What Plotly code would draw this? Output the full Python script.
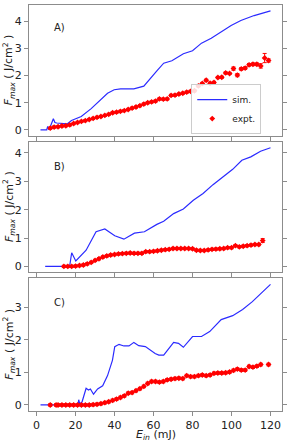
import plotly.graph_objects as go

# ---------------- data ----------------
# Panel A
sim_a_x = [2, 5.2, 5.7, 6.4, 8.6, 9.4, 10.3, 15.8, 17.9, 22.9, 28.0, 32.2, 36.4, 39.8, 43.1, 49.9, 55.0,
           61.7, 65.2, 69.4, 75.3, 80.0, 84.6, 89.6, 94.7, 99.8, 104.8, 111.6, 120]
sim_a_y = [0, 0, 0.12, 0, 0.41, 0.27, 0.25, 0.22, 0.34, 0.49, 0.78, 1.05, 1.35, 1.48, 1.51, 1.51, 1.61,
           2.18, 2.46, 2.55, 2.81, 2.92, 3.2, 3.38, 3.63, 3.85, 4.04, 4.22, 4.39]
exp_a_x = [7, 9, 11, 13, 15, 17, 19, 21, 23, 25, 27, 29, 31, 33, 35, 37, 39, 41, 43, 45, 47, 49, 51, 53,
           55, 57, 59, 61, 63, 65, 67, 69, 71, 73, 75, 77, 79, 81, 83, 85, 87, 89, 91, 93, 95, 97, 99,
           101, 103, 105, 107, 109, 111, 113, 115, 117, 119]
exp_a_y = [0.06, 0.1, 0.11, 0.14, 0.15, 0.18, 0.23, 0.27, 0.31, 0.34, 0.38, 0.42, 0.46, 0.49, 0.53, 0.57,
           0.63, 0.65, 0.68, 0.71, 0.75, 0.8, 0.84, 0.89, 0.95, 1.0, 1.03, 1.06, 1.14, 1.13, 1.14, 1.27,
           1.28, 1.32, 1.35, 1.39, 1.42, 1.44, 1.62, 1.71, 1.83, 1.72, 1.75, 1.93, 1.94, 2.1, 2.08, 2.26,
           2.02, 2.25, 2.28, 2.4, 2.42, 2.42, 2.36, 2.65, 2.56]
exp_a_err = [0.04] * 47 + [0.06, 0.06, 0.05, 0.05, 0.05, 0.05, 0.05, 0.08, 0.17, 0.06]

# Panel B
sim_b_x = [4.4, 16.5, 17.0, 18.0, 20.1, 25.4, 30.5, 35.0, 40.1, 44.8, 50.2, 55.3, 61.7, 65.2, 70.3,
           75.3, 80.4, 85.4, 90.5, 95.6, 100.6, 105.3, 109.9, 114.9, 120]
sim_b_y = [0, 0, 0.03, 0.48, 0.19, 0.57, 1.22, 1.32, 1.08, 0.96, 1.17, 1.22, 1.48, 1.59, 1.86, 2.02,
           2.33, 2.57, 2.88, 3.15, 3.42, 3.74, 3.86, 4.06, 4.18]
exp_b_x = [14, 16, 18, 20, 22, 24, 26, 28, 30, 32, 34, 36, 38, 40, 42, 44, 46, 48, 50, 52, 54, 56, 58,
           60, 62, 64, 66, 68, 70, 72, 74, 76, 78, 80, 82, 84, 86, 88, 90, 92, 94, 96, 98, 100, 102,
           104, 106, 108, 110, 112, 114, 116]
exp_b_y = [0, 0, 0, 0.01, 0.03, 0.05, 0.09, 0.14, 0.21, 0.27, 0.33, 0.37, 0.4, 0.42, 0.44, 0.45, 0.46,
           0.47, 0.46, 0.46, 0.46, 0.52, 0.52, 0.53, 0.55, 0.57, 0.59, 0.6, 0.63, 0.63, 0.63, 0.63, 0.63,
           0.62, 0.57, 0.56, 0.56, 0.58, 0.6, 0.61, 0.62, 0.63, 0.66, 0.66, 0.73, 0.69, 0.71, 0.73, 0.75,
           0.77, 0.77, 0.91]
exp_b_err = [0.04] * 51 + [0.07]

# Panel C
sim_c_x = [2, 21.2, 21.6, 22.1, 23.3, 25.4, 26.6, 27.6, 29.2, 31.3, 33.9, 36.4, 38.9, 40.1, 42.3, 44.8,
           47.4, 49.9, 52.4, 55.8, 60.8, 62.7, 65.2, 70.3, 72.8, 75.3, 80.0, 84.6, 88.8, 94.7, 100.6,
           105.7, 110.7, 115.8, 120]
sim_c_y = [0, 0, 0.16, 0.04, 0.09, 0.51, 0.46, 0.49, 0.33, 0.49, 0.59, 0.9, 1.37, 1.79, 1.86, 1.81,
           1.81, 1.92, 1.82, 1.79, 1.58, 1.53, 1.53, 1.92, 1.89, 1.77, 2.1, 2.1, 2.25, 2.62, 2.74, 2.93,
           3.17, 3.45, 3.7]
exp_c_x = [7, 10, 11, 13, 15, 17, 19, 21, 23, 25, 27, 29, 31, 33, 35, 37, 39, 41, 43, 45, 47, 49, 51,
           53, 55, 57, 59, 61, 63, 65, 67, 69, 71, 73, 75, 77, 79, 81, 83, 85, 87, 89, 91, 93, 95, 97,
           99, 101, 103, 105, 107, 109, 111, 113, 115, 119]
exp_c_y = [0, 0, 0, 0, 0, 0, 0, 0, 0, 0, 0, 0.01, 0.02, 0.04, 0.07, 0.1, 0.14, 0.18, 0.23, 0.28, 0.36,
           0.38, 0.44, 0.5, 0.57, 0.66, 0.72, 0.72, 0.7, 0.72, 0.77, 0.79, 0.81, 0.82, 0.81, 0.9, 0.87,
           0.87, 0.9, 0.92, 0.9, 0.92, 0.97, 0.98, 0.98, 0.99, 1.01, 1.06, 1.1, 1.07, 1.07, 1.18, 1.16,
           1.19, 1.24, 1.24]
exp_c_err = [0.04] * 56

panel_labels = ["A)", "B)", "C)"]
x_ticks = [0, 20, 40, 60, 80, 100, 120]
y_ticks = [[0, 1, 2, 3, 4], [0, 1, 2, 3, 4], [0, 1, 2, 3]]
y_ranges = [[-0.22, 4.61], [-0.21, 4.39], [-0.185, 3.885]]
label_y = [3.78, 3.52, 3.15]
x_range = [-3.9, 125.9]

# ---------------- figure ----------------
FONT = "DejaVu Sans"
SIM_COLOR = "#2b2bff"
EXP_COLOR = "#ff0000"
AX_COLOR = "#8c8c8c"

panels = [
    (sim_a_x, sim_a_y, exp_a_x, exp_a_y, exp_a_err),
    (sim_b_x, sim_b_y, exp_b_x, exp_b_y, exp_b_err),
    (sim_c_x, sim_c_y, exp_c_x, exp_c_y, exp_c_err),
]
domains = [[0.678, 1.0], [0.3415, 0.663], [0.0, 0.3268]]

fig = go.Figure()
annotations = []
for i, (sx, sy, ex, ey, ee) in enumerate(panels):
    xa = "x" if i == 0 else f"x{i+1}"
    ya = "y" if i == 0 else f"y{i+1}"
    fig.add_trace(go.Scatter(x=sx, y=sy, mode="lines", name="sim.",
                             line=dict(color=SIM_COLOR, width=1.2),
                             showlegend=(i == 0), xaxis=xa, yaxis=ya))
    fig.add_trace(go.Scatter(x=ex, y=ey, mode="markers", name="expt.",
                             marker=dict(symbol="diamond", size=4.5, color=EXP_COLOR),
                             error_y=dict(type="data", array=ee, color=EXP_COLOR,
                                          thickness=1, width=2),
                             showlegend=(i == 0), xaxis=xa, yaxis=ya))
    axx = dict(domain=[0, 1], anchor=ya, range=x_range, tickvals=x_ticks,
               showticklabels=(i == 2), showline=True, linecolor=AX_COLOR, linewidth=1,
               mirror=True, ticks="outside", ticklen=4, tickcolor=AX_COLOR,
               showgrid=False, zeroline=False,
               tickfont=dict(family=FONT, size=11, color="#222"))
    axy = dict(domain=domains[i], anchor=xa, range=y_ranges[i], tickvals=y_ticks[i],
               showline=True, linecolor=AX_COLOR, linewidth=1, mirror="ticks",
               ticks="outside", ticklen=4, tickcolor=AX_COLOR,
               showgrid=False, zeroline=False,
               tickfont=dict(family=FONT, size=11, color="#222"))
    if i > 0:
        axx["matches"] = "x"
    fig.update_layout(**{("xaxis" if i == 0 else f"xaxis{i+1}"): axx,
                         ("yaxis" if i == 0 else f"yaxis{i+1}"): axy})
    annotations.append(dict(x=12, y=label_y[i], xref=xa, yref=ya, text=panel_labels[i],
                            showarrow=False, font=dict(family=FONT, size=10, color="#222")))
    annotations.append(dict(x=0, xref="paper", xshift=-20,
                            y=(domains[i][0] + domains[i][1]) / 2, yref="paper",
                            text="<i>F</i><sub><i>max</i></sub> ( J/cm<sup>2</sup> )",
                            textangle=-90, showarrow=False, xanchor="center", yanchor="middle",
                            font=dict(family=FONT, size=11, color="#222")))

annotations.append(dict(x=0.5, xref="paper", y=0, yref="paper", yshift=-23.5,
                        text="<i>E</i><sub><i>in</i></sub> (mJ)", showarrow=False,
                        xanchor="center", yanchor="middle",
                        font=dict(family=FONT, size=11, color="#222")))

fig.update_layout(
    width=291, height=441,
    margin=dict(l=29, r=5, t=4, b=30),
    paper_bgcolor="white", plot_bgcolor="white",
    font=dict(family=FONT, size=11, color="#222"),
    annotations=annotations,
    legend=dict(x=0.918, y=0.682, xanchor="right", yanchor="bottom",
                bgcolor="rgba(255,255,255,0.85)", bordercolor="#cccccc", borderwidth=1,
                font=dict(family=FONT, size=9, color="#222"),
                itemwidth=30, tracegroupgap=0),
)

fig.write_html("out.html", config={"displayModeBar": False},
               post_script="document.body.style.margin='0';document.body.style.padding='0';")
